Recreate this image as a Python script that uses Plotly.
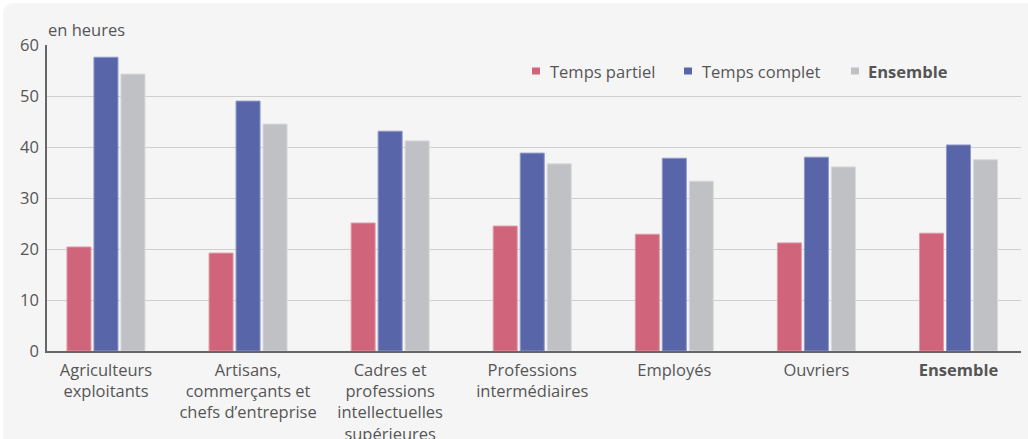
import plotly.graph_objects as go

categories = [
    "Agriculteurs<br>exploitants",
    "Artisans,<br>commerçants et<br>chefs d’entreprise",
    "Cadres et<br>professions<br>intellectuelles<br>supérieures",
    "Professions<br>intermédiaires",
    "Employés",
    "Ouvriers",
    "<b>Ensemble</b>",
]
series_names = ["Temps partiel", "Temps complet", "<b>Ensemble</b>"]
temps_partiel = [20.4, 19.2, 25.1, 24.5, 22.9, 21.2, 23.1]
temps_complet = [57.6, 49.0, 43.1, 38.8, 37.8, 38.0, 40.4]
ensemble = [54.3, 44.5, 41.2, 36.7, 33.3, 36.1, 37.5]
y_ticks = [0, 10, 20, 30, 40, 50, 60]

W, H = 1028, 439
L, R, T, B = 47, 1021, 45, 351
pw, ph = R - L, B - T
FS = 16.5
TXT = "#555555"

def px(x):
    return (x - L) / pw

def py(y):
    return (B - y) / ph

# rounded background panel
x0, x1 = px(3), px(1040)
y0, y1 = py(470), py(3)
rx, ry = 12 / pw, 12 / ph
panel = (f"M {x0+rx},{y1} L {x1-rx},{y1} Q {x1},{y1} {x1},{y1-ry} "
         f"L {x1},{y0+ry} Q {x1},{y0} {x1-rx},{y0} L {x0+rx},{y0} "
         f"Q {x0},{y0} {x0},{y0+ry} L {x0},{y1-ry} Q {x0},{y1} {x0+rx},{y1} Z")

colors = ["#d0647a", "#5865a8", "#c0c1c5"]
line_colors = ["#e39aa8", "#8f98c8", "#d8d9dc"]
values = [temps_partiel, temps_complet, ensemble]

fig = go.Figure()
for name, vals, col, lcol in zip(series_names, values, colors, line_colors):
    fig.add_trace(go.Bar(
        x=list(range(len(categories))), y=vals, name=name,
        marker=dict(color=col, line=dict(color=lcol, width=1)),
        hoverinfo="y",
    ))

# custom legend (small squares + text)
legend_marker_x = [532, 684, 851]
legend_text_x = [548, 700, 866]
legend_y = 71
shapes = [dict(type="path", path=panel, xref="paper", yref="paper",
               fillcolor="#f5f5f5", line=dict(width=0), layer="below")]
annotations = [dict(text="en heures", xref="paper", yref="paper",
                    x=px(46), y=py(30), xanchor="left", yanchor="middle",
                    showarrow=False, font=dict(size=FS, color=TXT))]
for mx, tx, name, col in zip(legend_marker_x, legend_text_x, series_names, colors):
    shapes.append(dict(type="rect", xref="paper", yref="paper",
                       x0=px(mx), x1=px(mx + 8), y0=py(legend_y + 3.5), y1=py(legend_y - 3.5),
                       fillcolor=col, line=dict(width=0)))
    annotations.append(dict(text=name, xref="paper", yref="paper",
                            x=px(tx), y=py(legend_y), xanchor="left", yanchor="middle",
                            showarrow=False, font=dict(size=FS, color=TXT)))

fig.update_layout(
    width=W, height=H,
    margin=dict(l=L, r=W - R, t=T, b=H - B, pad=0, autoexpand=False),
    paper_bgcolor="white",
    plot_bgcolor="rgba(0,0,0,0)",
    barmode="group",
    bargap=0.43,
    bargroupgap=0.11,
    font=dict(family="Open Sans", size=FS, color=TXT),
    showlegend=False,
    xaxis=dict(
        range=[-0.415, 6.44],
        tickmode="array",
        tickvals=list(range(len(categories))),
        ticktext=categories,
        showgrid=False, zeroline=False,
        showline=True, linecolor="#666666", linewidth=1.5,
        ticks="", ticklabelstandoff=3, tickfont=dict(size=FS, color=TXT),
        automargin=False,
        fixedrange=True,
    ),
    yaxis=dict(
        range=[0, 60],
        tickvals=y_ticks,
        showgrid=True, gridcolor="#cfcfcf", gridwidth=1,
        zeroline=False,
        showline=True, linecolor="#666666", linewidth=1.5,
        ticks="", ticklabelstandoff=3,
        tickfont=dict(size=FS, color=TXT),
        automargin=False,
        fixedrange=True,
    ),
    shapes=shapes,
    annotations=annotations,
)

fig.write_html("out.html", config={"displayModeBar": False},
               post_script="document.body.style.margin='0px';")
